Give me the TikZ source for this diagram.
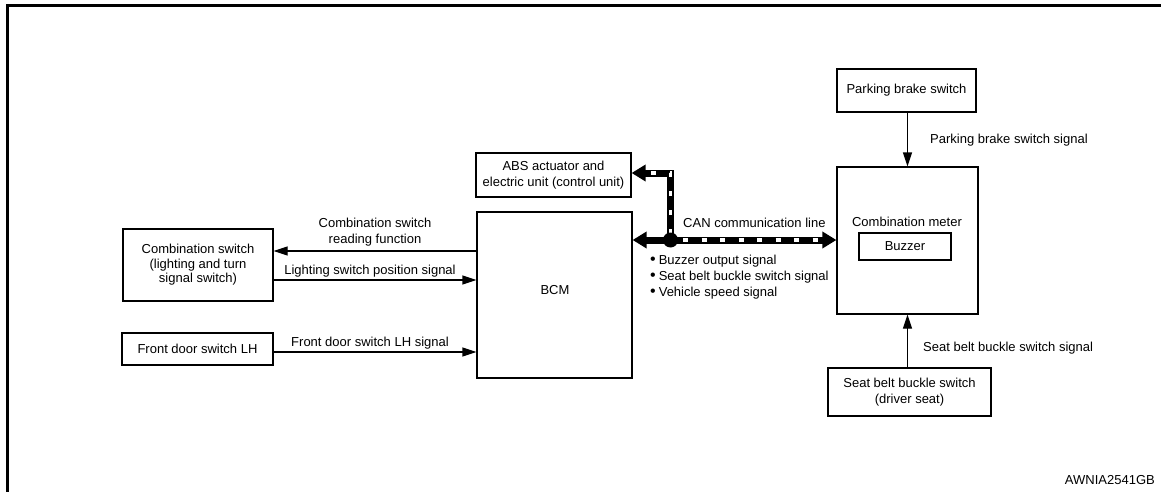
\documentclass[tikz,border=0pt]{standalone}
\usepackage{fontspec}
\setmainfont{Liberation Sans}
\usetikzlibrary{arrows.meta}
\newcommand{\bul}{{\fontsize{16}{16}\selectfont\textbullet}\hspace{3pt}}
\begin{document}
\begin{tikzpicture}[x=1pt,y=-1pt,
  font=\fontsize{13}{15.5}\selectfont,
  box/.style={draw,line width=1.2pt,inner sep=0pt,align=center},
  lbl/.style={inner sep=0pt,align=center},
  arr/.style={line width=1.2pt,-{Triangle[length=14pt,width=9pt]}},
  canline/.style={line width=7pt,-{Triangle[length=14pt,width=16pt]}},
  candash/.style={white,line width=3.5pt}]
\useasboundingbox (0,0) rectangle (1161,492);
\draw[line width=3pt] (7.5,492) -- (7.5,5.5) -- (1161,5.5);
% boxes
\node[box,minimum width=139pt,minimum height=43pt] (pbs) at (906.5,90.5) {Parking brake switch};
\node[box,minimum width=141pt,minimum height=147pt] (cmeter) at (907.5,240.5) {};
\node[lbl] (cmtext) at (907,222) {Combination meter};
\node[box,minimum width=92pt,minimum height=27pt] (buzzer) at (905,246.5) {Buzzer};
\node[box,minimum width=163pt,minimum height=48pt] (sbs) at (909.5,392) {Seat belt buckle switch\\(driver seat)};
\node[box,minimum width=155pt,minimum height=44pt] (abs) at (553.5,175) {ABS actuator and\\electric unit (control unit)};
\node[box,minimum width=155pt,minimum height=166pt] (bcm) at (554.5,295) {};
\node[lbl] (bcmtext) at (555,290) {BCM};
\node[box,minimum width=150pt,minimum height=72pt,font=\fontsize{13}{14.5}\selectfont] (cs) at (198,265) {Combination switch\\(lighting and turn\\signal switch)};
\node[box,minimum width=151pt,minimum height=32pt] (fds) at (197.5,349) {Front door switch LH};
% plain signals
\coordinate (y1) at (0,251);
\coordinate (y2) at (0,280);
\coordinate (y3) at (0,352);
\draw[arr] (bcm.west |- y1) -- (cs.east |- y1);
\draw[arr] (cs.east |- y2) -- (bcm.west |- y2);
\draw[arr] (fds.east |- y3) -- (bcm.west |- y3);
\node[lbl] (l1) at (375,232) {Combination switch\\reading function};
\node[lbl] (l2) at (370,271) {Lighting switch position signal};
\node[lbl] (l3) at (370,343) {Front door switch LH signal};
\draw[arr] (cmeter.north |- pbs.south) -- (cmeter.north);
\draw[arr] (cmeter.south |- sbs.north) -- (cmeter.south);
\node[lbl,anchor=west] (l4) at (930,140) {Parking brake switch signal};
\node[lbl,anchor=west] (l5) at (923,348) {Seat belt buckle switch signal};
% CAN
\coordinate (j) at (670.5,240);
\coordinate (c) at (670.5,173);
\draw[canline] (j) -- (bcm.east |- j);
\draw[canline] (j) -- (cmeter.west |- j);
\draw[canline,line join=miter] (j) -- (c) -- (abs.east |- c);
\draw[candash,dash pattern=on 5pt off 13.5pt,dash phase=6pt,shorten >=16pt] (j) -- (cmeter.west |- j);
\draw[candash,dash pattern=on 5pt off 14pt,dash phase=13pt,shorten >=16pt,line join=miter] (j) -- (c) -- (abs.east |- c);
\fill (j) circle (7.5pt);
\node[lbl,anchor=west] (l6) at (683,223) {CAN communication line};
\node[lbl,anchor=west,align=left,font=\fontsize{13}{16}\selectfont] (l7) at (650,277) {\bul Buzzer output signal\\\bul Seat belt buckle switch signal\\\bul Vehicle speed signal};
\node[lbl,anchor=east] (code) at (1155,480) {AWNIA2541GB};
\end{tikzpicture}
\end{document}
